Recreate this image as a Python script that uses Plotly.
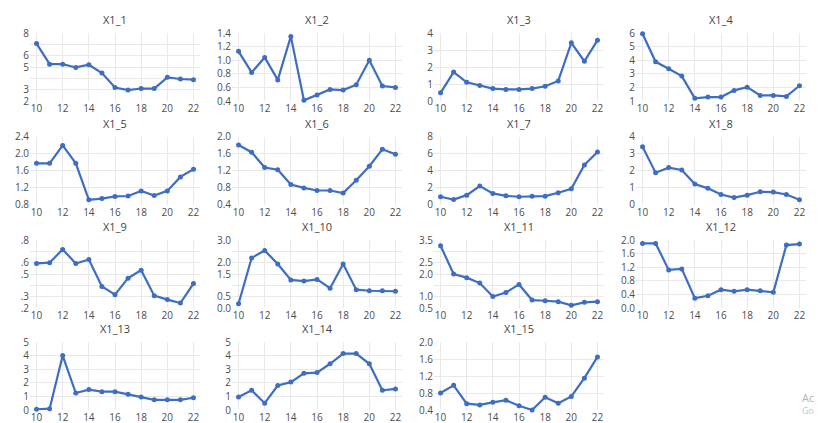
import plotly.graph_objects as go
from plotly.subplots import make_subplots

x_vals = list(range(10, 23))

titles = ["X1_1", "X1_2", "X1_3", "X1_4", "X1_5", "X1_6", "X1_7", "X1_8",
          "X1_9", "X1_10", "X1_11", "X1_12", "X1_13", "X1_14", "X1_15"]

s1 = [7.07, 5.25, 5.25, 4.96, 5.2, 4.46, 3.19, 2.96, 3.1, 3.1, 4.09, 3.94, 3.88]
s2 = [1.13, 0.82, 1.04, 0.71, 1.35, 0.41, 0.49, 0.57, 0.56, 0.64, 1.0, 0.62, 0.60]
s3 = [0.48, 1.70, 1.10, 0.91, 0.73, 0.68, 0.68, 0.73, 0.87, 1.18, 3.42, 2.34, 3.57]
s4 = [5.95, 3.88, 3.37, 2.83, 1.2, 1.29, 1.29, 1.78, 2.02, 1.41, 1.41, 1.34, 2.12]
s5 = [1.77, 1.77, 2.19, 1.77, 0.91, 0.94, 0.99, 1.0, 1.12, 1.01, 1.12, 1.45, 1.63]
s6 = [1.80, 1.63, 1.27, 1.22, 0.87, 0.79, 0.73, 0.73, 0.67, 0.97, 1.30, 1.70, 1.58]
s7 = [0.91, 0.59, 1.10, 2.17, 1.30, 1.02, 0.91, 0.98, 0.98, 1.38, 1.85, 4.65, 6.18]
s8 = [3.39, 1.87, 2.17, 2.03, 1.20, 0.95, 0.59, 0.41, 0.55, 0.75, 0.73, 0.59, 0.28]
s9 = [0.593, 0.60, 0.717, 0.593, 0.628, 0.39, 0.318, 0.463, 0.534, 0.309, 0.274, 0.244, 0.416]
s10 = [0.19, 2.21, 2.54, 1.94, 1.24, 1.19, 1.26, 0.87, 1.94, 0.81, 0.76, 0.76, 0.74]
s11 = [3.25, 2.0, 1.84, 1.60, 1.01, 1.18, 1.54, 0.85, 0.82, 0.78, 0.62, 0.75, 0.78]
s12 = [1.90, 1.90, 1.12, 1.15, 0.29, 0.36, 0.54, 0.49, 0.54, 0.51, 0.46, 1.85, 1.88]
s13 = [0.05, 0.1, 4.0, 1.25, 1.5, 1.35, 1.35, 1.15, 0.95, 0.75, 0.75, 0.75, 0.9]
s14 = [0.95, 1.45, 0.5, 1.8, 2.05, 2.7, 2.75, 3.4, 4.15, 4.15, 3.4, 1.45, 1.55]
s15 = [0.8, 0.98, 0.55, 0.52, 0.58, 0.63, 0.5, 0.4, 0.7, 0.56, 0.72, 1.15, 1.65]

series = [s1, s2, s3, s4, s5, s6, s7, s8, s9, s10, s11, s12, s13, s14, s15]

tv1 = [2, 3, 4, 5, 6, 7, 8]
tt1 = ["2", "3", "", "5", "6", "", "8"]
tv2 = [0.4, 0.6, 0.8, 1.0, 1.2, 1.4]
tt2 = ["0.4", "0.6", "0.8", "1.0", "1.2", "1.4"]
tv3 = [0, 1, 2, 3, 4]
tt3 = ["0", "1", "2", "3", "4"]
tv4 = [1, 2, 3, 4, 5, 6]
tt4 = ["1", "2", "3", "4", "5", "6"]
tv5 = [0.8, 1.2, 1.6, 2.0, 2.4]
tt5 = ["0.8", "1.2", "1.6", "2.0", "2.4"]
tv6 = [0.4, 0.8, 1.2, 1.6, 2.0]
tt6 = ["0.4", "0.8", "1.2", "1.6", "2.0"]
tv7 = [0, 2, 4, 6, 8]
tt7 = ["0", "2", "4", "6", "8"]
tv8 = [0, 1, 2, 3, 4]
tt8 = ["0", "1", "2", "3", "4"]
tv9 = [0.2, 0.3, 0.4, 0.5, 0.6, 0.7, 0.8]
tt9 = [".2", ".3", "", ".5", ".6", "", ".8"]
tv10 = [0.0, 0.5, 1.0, 1.5, 2.0, 2.5, 3.0]
tt10 = ["0.0", "0.5", "", "1.5", "2.0", "", "3.0"]
tv11 = [0.5, 1.0, 1.5, 2.0, 2.5, 3.0, 3.5]
tt11 = ["0.5", "1.0", "", "2.0", "2.5", "", "3.5"]
tv12 = [0.0, 0.4, 0.8, 1.2, 1.6, 2.0]
tt12 = ["0.0", "0.4", "0.8", "1.2", "1.6", "2.0"]
tv13 = [0, 1, 2, 3, 4, 5]
tt13 = ["0", "1", "2", "3", "4", "5"]
tv14 = [0, 1, 2, 3, 4, 5]
tt14 = ["0", "1", "2", "3", "4", "5"]
tv15 = [0.4, 0.8, 1.2, 1.6, 2.0]
tt15 = ["0.4", "0.8", "1.2", "1.6", "2.0"]

tickvals = [tv1, tv2, tv3, tv4, tv5, tv6, tv7, tv8, tv9, tv10, tv11, tv12, tv13, tv14, tv15]
ticktexts = [tt1, tt2, tt3, tt4, tt5, tt6, tt7, tt8, tt9, tt10, tt11, tt12, tt13, tt14, tt15]

# page body has an 8px margin, so the figure is drawn 8px smaller and offset
OFF = 8
W, H = 822 - OFF, 423 - OFF
ML, MR, MT, MB = 30 - OFF, 16, 33 - OFF, 12
PW = W - ML - MR
PH = H - MT - MB
col_left_px = [30 - OFF, 232 - OFF, 434 - OFF, 636 - OFF]
col_w = 170
row_top_px = [33 - OFF, 136.5 - OFF, 240 - OFF, 342 - OFF]
row_h = 68

LINE = "#3F6EC0"
GRID = "#e9e9e9"
FONT = "Open Sans, Arial, sans-serif"
TICKFONT = dict(family=FONT, size=10, color="#4d4d4d")

fig = make_subplots(rows=4, cols=4)

annotations = []
for i in range(16):
    r, c = divmod(i, 4)
    xa = "xaxis" if i == 0 else f"xaxis{i+1}"
    ya = "yaxis" if i == 0 else f"yaxis{i+1}"
    x0 = (col_left_px[c] - ML) / PW
    x1 = (col_left_px[c] + col_w - ML) / PW
    ytop = 1 - (row_top_px[r] - MT) / PH
    ybot = 1 - (row_top_px[r] + row_h - MT) / PH
    if i < 15:
        fig.add_trace(go.Scatter(
            x=x_vals, y=series[i], mode="lines+markers",
            line=dict(color=LINE, width=2.2),
            marker=dict(color=LINE, size=5),
            showlegend=False, cliponaxis=False,
        ), row=r + 1, col=c + 1)
        fig.layout[xa].update(
            domain=[x0, x1], range=[9.5, 22.5], tickmode="array",
            tickvals=[10, 12, 14, 16, 18, 20, 22],
            ticktext=["10", "12", "14", "16", "18", "20", "22"],
            showgrid=True, gridcolor=GRID, zeroline=False, showline=False,
            tickfont=TICKFONT, ticks="", automargin=False,
        )
        fig.layout[ya].update(
            domain=[ybot, ytop], range=[tickvals[i][0], tickvals[i][-1]],
            tickmode="array", tickvals=tickvals[i], ticktext=ticktexts[i],
            showgrid=True, gridcolor=GRID, zeroline=False, showline=False,
            tickfont=TICKFONT, ticks="", automargin=False,
        )
        annotations.append(dict(
            text=titles[i], x=(x0 + x1) / 2, y=ytop, xref="paper", yref="paper",
            xanchor="center", yanchor="bottom", yshift=4, showarrow=False,
            font=dict(family=FONT, size=11, color="#444444"),
        ))
    else:
        fig.layout[xa].update(domain=[x0, x1], visible=False, automargin=False)
        fig.layout[ya].update(domain=[ybot, ytop], visible=False, automargin=False)

annotations.append(dict(text="Ac", x=1.0, y=(1 - (397 - OFF - MT) / PH), xref="paper", yref="paper",
                        xanchor="left", yanchor="middle", xshift=-6, showarrow=False,
                        font=dict(family=FONT, size=11, color="#b5b5b5")))
annotations.append(dict(text="Go", x=1.0, y=(1 - (410 - OFF - MT) / PH), xref="paper", yref="paper",
                        xanchor="left", yanchor="middle", xshift=-6, showarrow=False,
                        font=dict(family=FONT, size=9, color="#c5c5c5")))

fig.update_layout(
    width=W, height=H,
    margin=dict(l=ML, r=MR, t=MT, b=MB),
    paper_bgcolor="white", plot_bgcolor="white",
    annotations=annotations,
    showlegend=False,
)

fig.write_html("out.html")
